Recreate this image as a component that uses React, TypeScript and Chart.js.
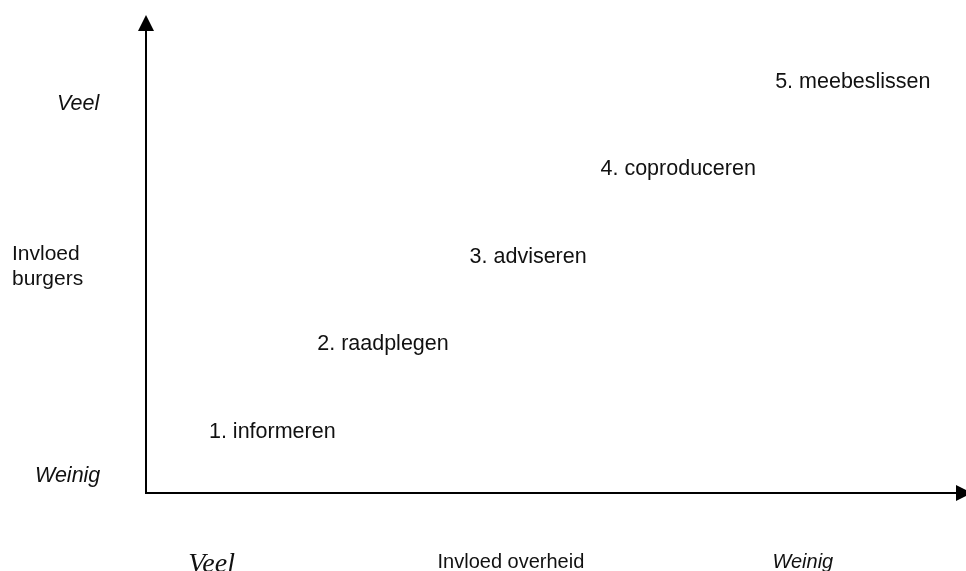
import React, { useEffect, useRef } from "react";
import { Chart, registerables } from "chart.js";

Chart.register(...registerables);

const stepLabels = ["1. informeren", "2. raadplegen", "3. adviseren", "4. coproduceren", "5. meebeslissen"];
const overheidValues = [1.54, 2.89, 4.66, 6.49, 8.62];
const burgerValues = [1.15, 2.99, 4.81, 6.65, 8.47];

const yAxisLabels = ["Weinig", "Invloed\nburgers", "Veel"];
const yAxisLabelValues = [0.23, 4.87, 8.01];
const xAxisLabels = ["Veel", "Invloed overheid", "Weinig"];
const xAxisLabelValues = [0.8, 4.45, 8.01];

const SANS = '"Liberation Sans", Arial, sans-serif';

const diagramPlugin = {
  id: "diagram",
  afterDatasetsDraw(chart: any) {
    const { ctx, chartArea, scales } = chart;
    const xs = scales.x;
    const ys = scales.y;
    const ox = xs.getPixelForValue(0);
    const oy = ys.getPixelForValue(0);
    ctx.save();
    ctx.strokeStyle = "#000";
    ctx.fillStyle = "#000";
    ctx.lineWidth = 2;
    // y axis
    ctx.beginPath();
    ctx.moveTo(ox, oy + 1);
    ctx.lineTo(ox, chartArea.top + 10);
    ctx.stroke();
    // x axis
    ctx.beginPath();
    ctx.moveTo(ox - 1, oy);
    ctx.lineTo(chartArea.right - 8, oy);
    ctx.stroke();
    // arrow up
    ctx.beginPath();
    ctx.moveTo(ox, chartArea.top);
    ctx.lineTo(ox - 8, chartArea.top + 16);
    ctx.lineTo(ox + 8, chartArea.top + 16);
    ctx.closePath();
    ctx.fill();
    // arrow right
    const tip = chartArea.right + 6;
    ctx.beginPath();
    ctx.moveTo(tip, oy);
    ctx.lineTo(tip - 16, oy - 8);
    ctx.lineTo(tip - 16, oy + 8);
    ctx.closePath();
    ctx.fill();

    // step labels
    ctx.fillStyle = "#111";
    ctx.font = `21.5px ${SANS}`;
    ctx.textAlign = "center";
    ctx.textBaseline = "alphabetic";
    const meta = chart.getDatasetMeta(0);
    meta.data.forEach((pt: any, i: number) => {
      ctx.fillText(stepLabels[i], pt.x, pt.y);
    });

    // y axis labels
    ctx.textAlign = "left";
    const yLeft = [35, 12, 57];
    yAxisLabels.forEach((lab, i) => {
      const y = ys.getPixelForValue(yAxisLabelValues[i]);
      const lines = lab.split("\n");
      ctx.font = i === 1 ? `21px ${SANS}` : `italic 21.5px ${SANS}`;
      lines.forEach((ln, j) => ctx.fillText(ln, yLeft[i], y + j * 25));
    });

    // x axis labels
    ctx.textAlign = "center";
    xAxisLabels.forEach((lab, i) => {
      const x = xs.getPixelForValue(xAxisLabelValues[i]);
      if (i === 0) {
        ctx.font = 'italic 28px "Liberation Serif", "Times New Roman", serif';
        ctx.fillText(lab, x, oy + 79);
      } else {
        ctx.font = i === 2 ? `italic 20px ${SANS}` : `20px ${SANS}`;
        ctx.fillText(lab, x, oy + 75);
      }
    });
    ctx.restore();
  },
};

export default function App() {
  const ref = useRef<HTMLCanvasElement | null>(null);
  useEffect(() => {
    if (!ref.current) return;
    const chart = new Chart(ref.current, {
      type: "scatter",
      data: {
        datasets: [
          {
            data: overheidValues.map((x, i) => ({ x, y: burgerValues[i] })),
            pointRadius: 0,
            pointHoverRadius: 0,
          },
        ],
      },
      options: {
        animation: false,
        responsive: false,
        devicePixelRatio: 1,
        layout: { padding: { left: 146, top: 15, right: 0, bottom: 78 } },
        plugins: { legend: { display: false }, tooltip: { enabled: false } },
        scales: {
          x: { type: "linear", min: 0, max: 10, display: false },
          y: { type: "linear", min: 0, max: 10, display: false },
        },
      },
      plugins: [diagramPlugin],
    });
    return () => chart.destroy();
  }, []);
  return (
    <div style={{ position: "absolute", left: 0, top: 0, width: 966, height: 571, background: "#fff" }}>
      <canvas ref={ref} width={966} height={571} style={{ display: "block" }} />
    </div>
  );
}
